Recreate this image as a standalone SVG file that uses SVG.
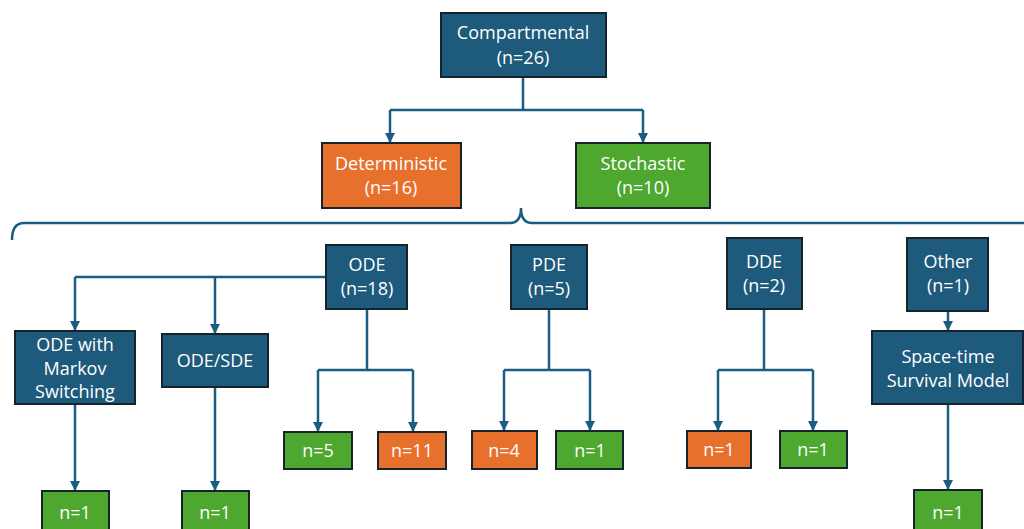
<svg xmlns="http://www.w3.org/2000/svg" width="1024" height="529" viewBox="0 0 1024 529">
<defs>
<marker id="ah" viewBox="0 0 10 10" refX="9" refY="5" markerWidth="4" markerHeight="4" markerUnits="strokeWidth" orient="auto">
<path d="M0,0 L10,5 L0,10 z" fill="#1B5D82"/>
</marker>
<style>
.b{fill:#1D5A7B;stroke:#15242C;stroke-width:2}
.o{fill:#E8702D;stroke:#15242C;stroke-width:2}
.g{fill:#4EA72E;stroke:#15242C;stroke-width:2}
text{font-family:"Open Sans","Liberation Sans",sans-serif;font-size:18px;font-weight:500;fill:#FFFFFF;text-anchor:middle}
.c{fill:none;stroke:#1B5D82;stroke-width:2.5}
</style>
</defs>
<rect width="1024" height="529" fill="#FFFFFF"/>
<g id="connectors">
<path class="c" d="M523,77 V110 M390,110 H643"/>
<path class="c" d="M390,110 V142" marker-end="url(#ah)"/>
<path class="c" d="M643,110 V142" marker-end="url(#ah)"/>
<path class="c" d="M12,240 Q12,223 24,223 H510 Q521,223 521,208 Q521,223 532,223 H1024"/>
<path class="c" d="M326,277 H75"/>
<path class="c" d="M75,277 V330" marker-end="url(#ah)"/>
<path class="c" d="M215,277 V333" marker-end="url(#ah)"/>
<path class="c" d="M367,309 V370 M318,370 H413"/>
<path class="c" d="M318,370 V431" marker-end="url(#ah)"/>
<path class="c" d="M413,370 V431" marker-end="url(#ah)"/>
<path class="c" d="M549,309 V370 M504,370 H590"/>
<path class="c" d="M504,370 V430" marker-end="url(#ah)"/>
<path class="c" d="M590,370 V430" marker-end="url(#ah)"/>
<path class="c" d="M764,309 V370 M718,370 H813"/>
<path class="c" d="M718,370 V430" marker-end="url(#ah)"/>
<path class="c" d="M813,370 V430" marker-end="url(#ah)"/>
<path class="c" d="M948,311 V330" marker-end="url(#ah)"/>
<path class="c" d="M75,404 V490" marker-end="url(#ah)"/>
<path class="c" d="M215,387 V490" marker-end="url(#ah)"/>
<path class="c" d="M948,404 V489" marker-end="url(#ah)"/>
</g>
<g id="compartmental"><rect class="b" x="441" y="13" width="165" height="64"/><text x="523" y="39">Compartmental</text><text x="523" y="64">(n=26)</text></g>
<g id="deterministic"><rect class="o" x="322" y="143" width="139" height="65"/><text x="391" y="170">Deterministic</text><text x="391" y="194">(n=16)</text></g>
<g id="stochastic"><rect class="g" x="576" y="143" width="134" height="65"/><text x="643" y="170">Stochastic</text><text x="643" y="194">(n=10)</text></g>
<g id="ode"><rect class="b" x="326" y="245" width="81" height="64"/><text x="367" y="271">ODE</text><text x="367" y="295">(n=18)</text></g>
<g id="pde"><rect class="b" x="511" y="245" width="76" height="64"/><text x="549" y="271">PDE</text><text x="549" y="295">(n=5)</text></g>
<g id="dde"><rect class="b" x="727" y="238" width="75" height="71"/><text x="764" y="268">DDE</text><text x="764" y="292">(n=2)</text></g>
<g id="other"><rect class="b" x="907" y="238" width="81" height="73"/><text x="948" y="268">Other</text><text x="948" y="292">(n=1)</text></g>
<g id="ode-markov"><rect class="b" x="15" y="331" width="120" height="73"/><text x="75" y="351">ODE with</text><text x="75" y="375">Markov</text><text x="75" y="398">Switching</text></g>
<g id="ode-sde"><rect class="b" x="162" y="334" width="106" height="53"/><text x="215" y="367">ODE/SDE</text></g>
<g id="space-time"><rect class="b" x="872" y="331" width="151" height="73"/><text x="948" y="363">Space-time</text><text x="948" y="387">Survival Model</text></g>
<g id="ode-n5"><rect class="g" x="284" y="432" width="68" height="37"/><text x="318" y="457">n=5</text></g>
<g id="ode-n11"><rect class="o" x="378" y="432" width="68" height="37"/><text x="412" y="457">n=11</text></g>
<g id="pde-n4"><rect class="o" x="472" y="431" width="65" height="38"/><text x="504" y="457">n=4</text></g>
<g id="pde-n1"><rect class="g" x="556" y="431" width="67" height="38"/><text x="590" y="457">n=1</text></g>
<g id="dde-n1a"><rect class="o" x="687" y="431" width="64" height="37"/><text x="719" y="456">n=1</text></g>
<g id="dde-n1b"><rect class="g" x="780" y="431" width="67" height="37"/><text x="813" y="456">n=1</text></g>
<g id="markov-n1"><rect class="g" x="42" y="491" width="67" height="45"/><text x="75" y="519">n=1</text></g>
<g id="odesde-n1"><rect class="g" x="182" y="491" width="67" height="45"/><text x="215" y="519">n=1</text></g>
<g id="space-n1"><rect class="g" x="914" y="490" width="68" height="46"/><text x="948" y="519">n=1</text></g>
</svg>
